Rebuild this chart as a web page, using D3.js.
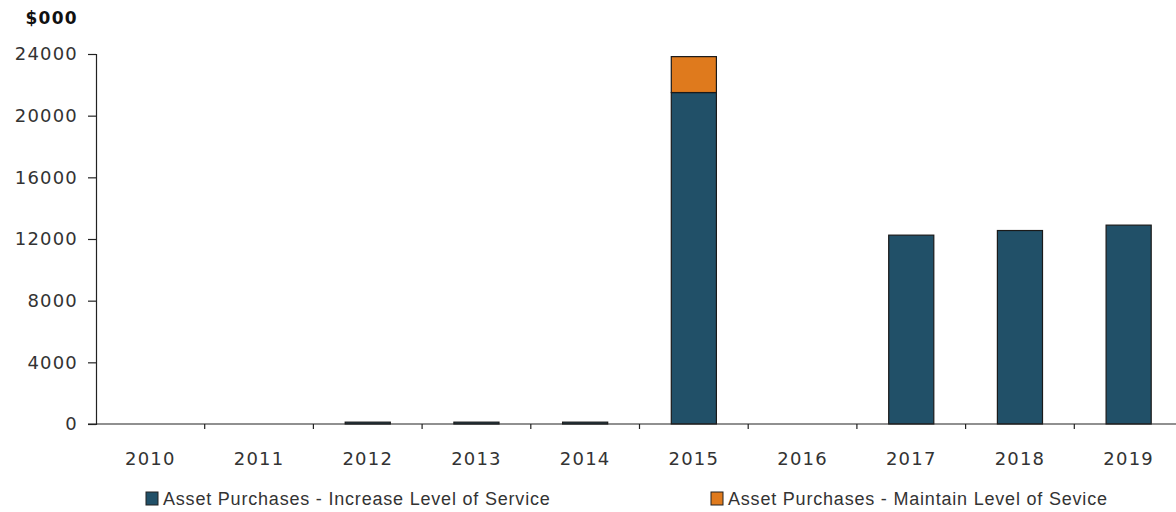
<!DOCTYPE html>
<html>
<head>
<meta charset="utf-8">
<script src="https://cdn.jsdelivr.net/npm/d3@7"></script>
<style>
  body { margin: 0; background: #fff; }
  svg { display: block; }
</style>
</head>
<body>
<div id="chart"></div>
<script>
// Data
const years = ["2010", "2011", "2012", "2013", "2014", "2015", "2016", "2017", "2018", "2019"];
const increaseLevel = [0, 0, 120, 120, 120, 21500, 0, 12250, 12550, 12900];
const maintainLevel = [0, 0, 0, 0, 0, 2330, 0, 0, 0, 0];
const yTicks = [0, 4000, 8000, 12000, 16000, 20000, 24000];
const seriesNames = ["Asset Purchases - Increase Level of Service", "Asset Purchases - Maintain Level of Sevice"];
const seriesColors = ["#215068", "#df7a1d"];

const W = 1176, H = 512;
const svg = d3.select("#chart").append("svg")
  .attr("width", W)
  .attr("height", H);

// Scales
const x = d3.scaleBand()
  .domain(years)
  .range([96, 1183])
  .padding(0);
const y = d3.scaleLinear()
  .domain([0, 24000])
  .range([424, 54]);

const barW = x.bandwidth() * 0.415;

// Stack the two series
const table = years.map((yr, i) => ({year: yr, inc: increaseLevel[i], mnt: maintainLevel[i]}));
const stacked = d3.stack().keys(["inc", "mnt"])(table);

svg.append("g")
  .selectAll("g")
  .data(stacked)
  .join("g")
  .attr("fill", (d, i) => seriesColors[i])
  .selectAll("rect")
  .data(d => d.filter(p => p[1] - p[0] > 0))
  .join("rect")
  .attr("x", d => x(d.data.year) + (x.bandwidth() - barW) / 2)
  .attr("y", d => y(d[1]))
  .attr("width", barW)
  .attr("height", d => y(d[0]) - y(d[1]))
  .attr("stroke", "#1a1a1a")
  .attr("stroke-width", 1.2);

const labelStyle = sel => sel
  .attr("fill", "#333")
  .style("font-family", "DejaVu Sans, sans-serif")
  .style("font-size", "18px")
  .style("letter-spacing", "1.2px");

// Y axis
const yAxis = svg.append("g")
  .attr("transform", "translate(96,0)")
  .call(d3.axisLeft(y).tickValues(yTicks).tickSize(8).tickPadding(10).tickFormat(d3.format("d")));
yAxis.select(".domain").attr("stroke", "#222").attr("stroke-width", 1.2);
yAxis.selectAll(".tick line").attr("stroke", "#222").attr("stroke-width", 1.2);
yAxis.selectAll(".tick text").call(labelStyle);

// X axis (labels only, boundary ticks drawn separately)
const xAxis = svg.append("g")
  .attr("transform", "translate(0,424)")
  .call(d3.axisBottom(x).tickSize(0).tickPadding(28));
xAxis.select(".domain").remove();
xAxis.selectAll(".tick text").call(labelStyle);

svg.append("line")
  .attr("x1", 88).attr("x2", W)
  .attr("y1", y(0)).attr("y2", y(0))
  .attr("stroke", "#222").attr("stroke-width", 1.2);

svg.append("g")
  .selectAll("line")
  .data(years.slice(1))
  .join("line")
  .attr("x1", d => x(d)).attr("x2", d => x(d))
  .attr("y1", y(0)).attr("y2", y(0) + 5)
  .attr("stroke", "#222").attr("stroke-width", 1.2);

// Unit label
svg.append("text")
  .attr("x", 78)
  .attr("y", 24)
  .attr("text-anchor", "end")
  .attr("fill", "#111")
  .style("font-family", "DejaVu Sans, sans-serif")
  .style("font-weight", "bold")
  .style("font-size", "17px")
  .style("letter-spacing", "1.3px")
  .text("$000");

// Legend
const legendX = [146, 711];
const legend = svg.append("g")
  .selectAll("g")
  .data(seriesNames)
  .join("g")
  .attr("transform", (d, i) => `translate(${legendX[i]},492)`);
legend.append("rect")
  .attr("width", 12)
  .attr("height", 13)
  .attr("fill", (d, i) => seriesColors[i])
  .attr("stroke", "#222")
  .attr("stroke-width", 1);
legend.append("text")
  .attr("x", 17)
  .attr("y", 13)
  .attr("fill", "#333")
  .style("font-family", "Liberation Sans, Arial, sans-serif")
  .style("font-size", "18px")
  .style("letter-spacing", "0.8px")
  .text(d => d);
</script>
</body>
</html>
